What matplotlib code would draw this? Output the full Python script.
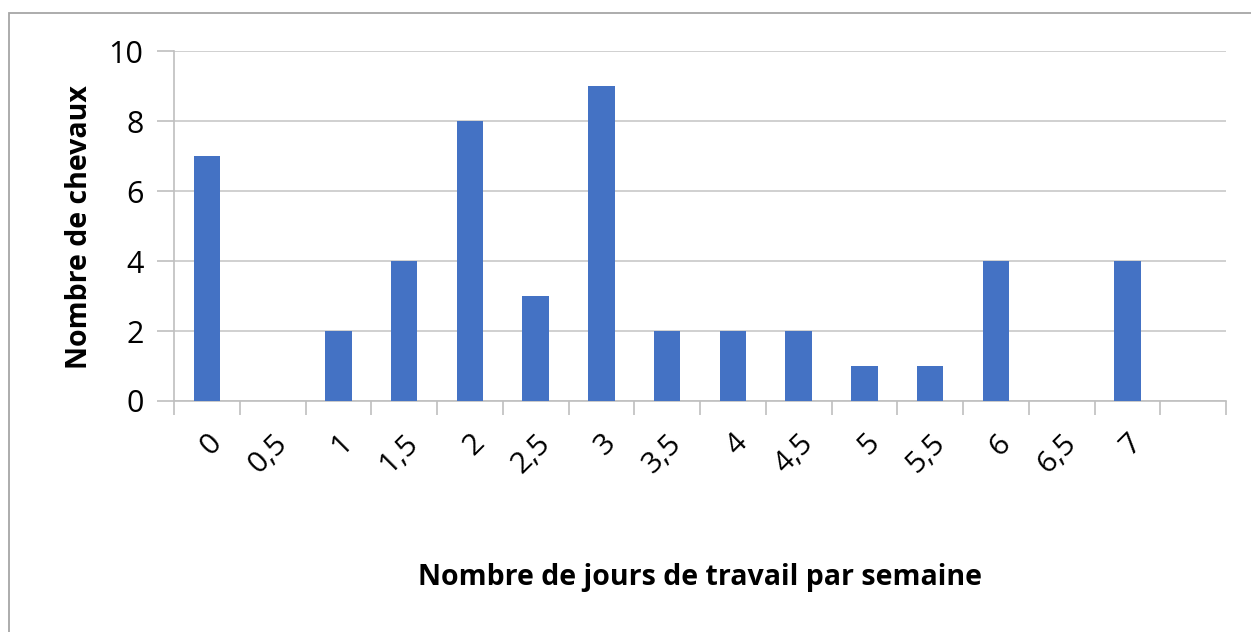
import matplotlib
matplotlib.use("Agg")
import matplotlib.pyplot as plt
from matplotlib.patches import Rectangle

categories = ["0", "0,5", "1", "1,5", "2", "2,5", "3", "3,5", "4", "4,5", "5", "5,5", "6", "6,5", "7", ""]
values = [7, 0, 2, 4, 8, 3, 9, 2, 2, 2, 1, 1, 4, 0, 4, 0]
y_ticks = [0, 2, 4, 6, 8, 10]

W, H = 1251, 632
fig = plt.figure(figsize=(W / 100, H / 100), dpi=100)
plt.rcParams['font.family'] = ['Open Sans', 'DejaVu Sans']

# outer chart border (clipped at right and bottom)
fig.patches.append(Rectangle((8.5 / W, -0.1), 1.2, 1 - 13 / H + 0.1, transform=fig.transFigure,
                             fill=False, edgecolor='#a6a6a6', linewidth=1.3))

ax = fig.add_axes([174 / W, 1 - 401 / H, (1226 - 174) / W, (401 - 51) / H])
x = list(range(len(categories)))
ax.bar(x, values, width=0.4, color='#4472C4', zorder=3)
ax.set_xlim(-0.5, len(categories) - 0.5)
ax.set_ylim(0, 10)

ax.set_yticks(y_ticks)
ax.set_yticklabels([str(v) for v in y_ticks], fontsize=22, color='#000000')
ax.yaxis.grid(True, color='#c8c8c8', linewidth=1.2, zorder=0)
ax.tick_params(axis='y', length=12, color='#bfbfbf', width=1.2, pad=10)

ax.set_xticks([i - 0.5 for i in range(len(categories) + 1)], minor=False)
ax.set_xticklabels([""] * (len(categories) + 1))
ax.tick_params(axis='x', length=10, color='#bfbfbf', width=1.2)
ax.set_xticks(x, minor=True)
ax.set_xticklabels(categories, minor=True, rotation=45, ha='right', va='top',
                   rotation_mode='anchor', fontsize=21.5)
ax.tick_params(axis='x', which='minor', length=0, pad=20)

for s in ['top', 'right']:
    ax.spines[s].set_visible(False)
ax.spines['left'].set_color('#bfbfbf')
ax.spines['bottom'].set_color('#bfbfbf')
ax.spines['left'].set_linewidth(1.2)
ax.spines['bottom'].set_linewidth(1.2)

fig.text(80 / W, 1 - 227 / H, "Nombre de chevaux", rotation=90, ha='center', va='center',
         fontsize=20.5, fontweight='bold')
fig.text(700 / W, 1 - 578 / H, "Nombre de jours de travail par semaine", ha='center', va='center',
         fontsize=20.5, fontweight='bold')

fig.savefig("out.png", dpi=100, facecolor='white')
